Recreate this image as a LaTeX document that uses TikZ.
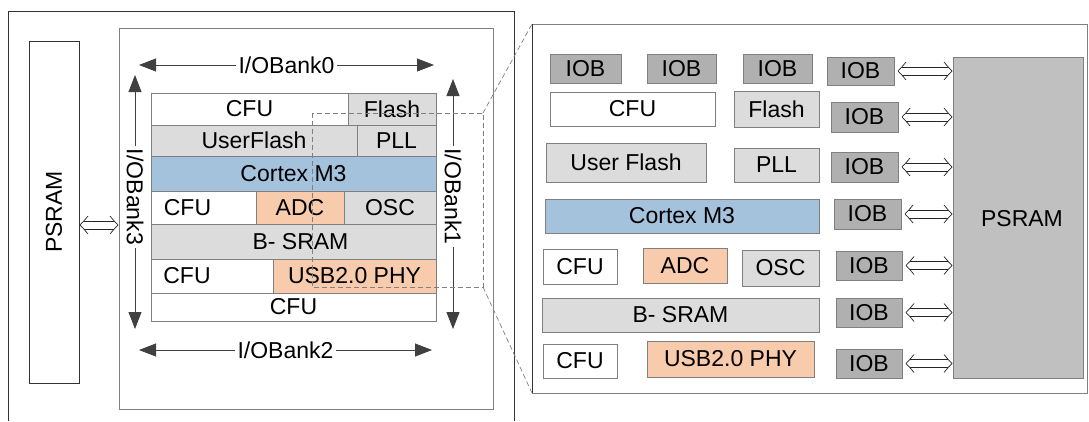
\documentclass[tikz,border=0pt]{standalone}
\usepackage{fontspec}
\setmainfont{Liberation Sans}
\usetikzlibrary{arrows.meta,calc}
\definecolor{lgray}{HTML}{DCDCDC}
\definecolor{iobgray}{HTML}{B0B0B0}
\definecolor{psgray}{HTML}{C0C0C0}
\definecolor{cblue}{HTML}{A5C2DD}
\definecolor{corange}{HTML}{F8CBAD}
\definecolor{edgec}{HTML}{808080}
\definecolor{darkarrow}{HTML}{404040}
\newcommand\mybox[7]{\node[#2, anchor=north west, minimum width={#5pt-#3pt}, minimum height={#6pt-#4pt}] (#1) at (#3,#4) {#7};}
% hollow double-headed arrow between two named coordinates (horizontal)
\newcommand\hollowarrow[2]{%
  \draw[harrow] ($(#1)+(8,-9)$) .. controls ($(#1)+(3,-3)$) .. (#1) .. controls ($(#1)+(3,3)$) .. ($(#1)+(8,9)$);
  \draw[harrow] ($(#2)+(-8,-9)$) .. controls ($(#2)+(-3,-3)$) .. (#2) .. controls ($(#2)+(-3,3)$) .. ($(#2)+(-8,9)$);
  \draw[harrow] ($(#1)+(3.7,-4)$) -- ($(#2)+(-3.7,-4)$);
  \draw[harrow] ($(#1)+(3.7,4)$) -- ($(#2)+(-3.7,4)$);}
\begin{document}
\begin{tikzpicture}[x=1pt,y=-1pt, font=\fontsize{23}{26}\selectfont,
  blk/.style={draw=edgec, line width=0.8pt, inner sep=0pt, outer sep=0pt},
  wbox/.style={blk, fill=white},
  gbox/.style={blk, fill=lgray},
  bbox/.style={blk, fill=cblue},
  obox/.style={blk, fill=corange},
  iob/.style={blk, fill=iobgray},
  psbox/.style={blk, fill=psgray},
  bank/.style={draw=darkarrow, fill=darkarrow, line width=0.8pt, {Triangle[length=17pt,width=13pt]}-{Triangle[length=17pt,width=13pt]}},
  banklbl/.style={fill=white, inner sep=3pt, text=black},
  harrow/.style={draw=black!85, line width=0.7pt},
  zoomln/.style={draw=edgec, line width=0.7pt, dash pattern=on 5pt off 3pt}
]
\useasboundingbox (0,0) rectangle (1089,421);
% left frame
\draw[line width=0.8pt, black!80] (8,421) -- (8,11) -- (514,11) -- (514,421);
\mybox{psl}{wbox, draw=black!80}{29}{41}{79}{383}{}
\node[rotate=90] (pslt) at (psl.center) {PSRAM};
\mybox{chip}{wbox}{119}{28}{493}{409}{}
% grid
\mybox{cfu1}{wbox}{151}{93}{348}{125}{CFU}
\mybox{fl}{gbox}{348}{93}{436}{125}{Flash}
\mybox{uf}{gbox}{151}{125}{357}{156}{UserFlash}
\mybox{pll}{gbox}{357}{125}{436}{156}{PLL}
\mybox{cm}{bbox}{151}{156}{436}{191}{Cortex M3}
\mybox{cfu2}{wbox}{151}{191}{256}{224}{CFU\hspace*{32pt}}
\mybox{adc}{obox}{256}{191}{344}{224}{ADC}
\mybox{osc}{gbox}{344}{191}{436}{224}{OSC}
\mybox{bs}{gbox}{151}{224}{436}{259}{\hspace*{14pt}B- SRAM}
\mybox{cfu3}{wbox}{151}{259}{273}{293}{CFU\hspace*{50pt}}
\mybox{usb}{obox}{273}{259}{436}{293}{USB2.0 PHY}
\mybox{cfu4}{wbox}{151}{293}{436}{321}{CFU}
% bank arrows
\coordinate (b0l) at (139,65); \coordinate (b0r) at (434,65);
\draw[bank] (b0l) -- (b0r) node[banklbl, midway] (l0) {I/OBank0};
\coordinate (b2l) at (139,350); \coordinate (b2r) at (432,350);
\draw[bank] (b2l) -- (b2r) node[banklbl, midway] (l2) {I/OBank2};
\coordinate (b3t) at (135,75); \coordinate (b3b) at (135,329);
\draw[bank] (b3t) -- (b3b) node[banklbl, pos=0.48, rotate=-90] (l3) {I/OBank3};
\coordinate (b1t) at (453,79); \coordinate (b1b) at (453,329);
\draw[bank] (b1t) -- (b1b) node[banklbl, pos=0.47, rotate=-90] (l1) {I/OBank1};
% left double arrow
\path (psl.east |- 0,225) ++(1,0) coordinate (las);
\path (chip.west |- 0,225) ++(-1,0) coordinate (lae);
\hollowarrow{las}{lae}
% right panel
\mybox{rbox}{wbox}{532}{24}{1087}{393}{}
\draw[line width=0.8pt, black!80] (rbox.north west) -- (rbox.south west);
\mybox{ia}{iob}{550}{54}{621}{83}{IOB}
\mybox{ib}{iob}{647}{54}{716}{83}{IOB}
\mybox{ic}{iob}{743}{54}{812}{83}{IOB}
\mybox{i1}{iob}{827}{57}{894}{85}{IOB}
\mybox{rcfu1}{wbox}{550}{92}{715}{126}{CFU}
\mybox{rfl}{gbox}{734}{91}{819}{127}{Flash}
\mybox{i2}{iob}{831}{102}{898}{132}{IOB}
\mybox{ruf}{gbox}{546}{143}{706}{182}{User Flash}
\mybox{rpll}{gbox}{734}{148}{819}{182}{PLL}
\mybox{i3}{iob}{831}{152}{898}{182}{IOB}
\mybox{rcm}{bbox}{545}{199}{819}{233}{Cortex M3}
\mybox{i4}{iob}{834}{199}{901}{229}{IOB}
\mybox{rcfu2}{wbox}{543}{249}{617}{284}{CFU}
\mybox{radc}{obox}{643}{248}{727}{283}{ADC}
\mybox{rosc}{gbox}{742}{250}{819}{286}{OSC}
\mybox{i5}{iob}{836}{251}{902}{280}{IOB}
\mybox{rbs}{gbox}{542}{298}{819}{332}{B- SRAM}
\mybox{i6}{iob}{836}{298}{902}{327}{IOB}
\mybox{rcfu3}{wbox}{543}{344}{617}{378}{CFU}
\mybox{rusb}{obox}{647}{341}{814}{377}{USB2.0 PHY}
\mybox{i7}{iob}{836}{349}{902}{378}{IOB}
\mybox{psr}{psbox}{953}{57}{1083}{378}{}
\node (psrt) at (1022,219) {PSRAM};
\foreach \i in {1,...,7}{
  \path (i\i.east) ++(4,0) coordinate (as\i);
  \path (psr.west |- i\i.east) ++(-1,0) coordinate (ae\i);
  \hollowarrow{as\i}{ae\i}
}
% zoom indication
\coordinate (zt) at (483,113); \coordinate (zb) at (483,287);
\draw[zoomln] (312,113) rectangle (zb);
\draw[zoomln] (zt) -- (rbox.north west);
\draw[zoomln] (zb) -- (rbox.south west);
\end{tikzpicture}
\end{document}
